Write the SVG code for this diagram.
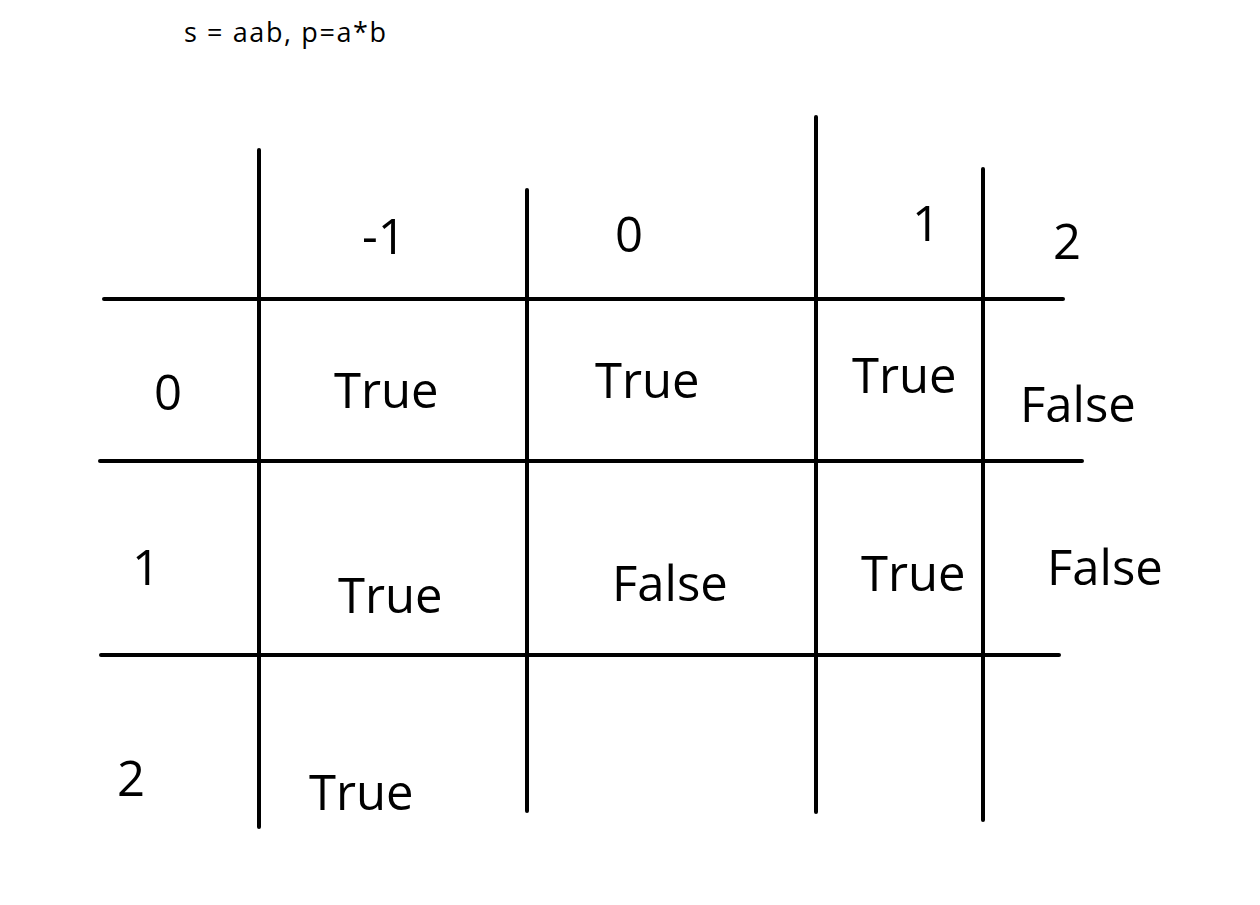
<svg xmlns="http://www.w3.org/2000/svg" width="1260" height="905" viewBox="0 0 1260 905">
<style>
.ln{stroke:#000;stroke-width:4;stroke-linecap:round;fill:none}
.t{font-family:"Open Sans","Noto Sans","DejaVu Sans",sans-serif;font-size:49px;fill:#000}
.title{font-family:"Open Sans","Noto Sans","DejaVu Sans",sans-serif;font-size:27px;letter-spacing:1.6px;fill:#000}
</style>
<rect width="1260" height="905" fill="#fff"/>
<text class="title" x="184" y="42">s = aab, p=a*b</text>
<g id="grid">
<line class="ln" x1="259" y1="150" x2="259" y2="827"/>
<line class="ln" x1="527" y1="190" x2="527" y2="811"/>
<line class="ln" x1="816" y1="117" x2="816" y2="812"/>
<line class="ln" x1="983" y1="169" x2="983" y2="820"/>
<line class="ln" x1="104" y1="299" x2="1063" y2="299"/>
<line class="ln" x1="100" y1="461" x2="1082" y2="461"/>
<line class="ln" x1="101" y1="655" x2="1059" y2="655"/>
</g>
<g id="col-headers">
<text class="t" x="362" y="254">-1</text>
<text class="t" x="615" y="252">0</text>
<text class="t" x="912" y="241">1</text>
<text class="t" x="1053" y="259">2</text>
</g>
<g id="row-headers">
<text class="t" x="154" y="410">0</text>
<text class="t" x="132" y="585">1</text>
<text class="t" x="117" y="796">2</text>
</g>
<g id="cells">
<text class="t" x="334" y="408">True</text>
<text class="t" x="595" y="398">True</text>
<text class="t" x="852" y="393">True</text>
<text class="t" x="1020" y="422">False</text>
<text class="t" x="338" y="613">True</text>
<text class="t" x="612" y="601">False</text>
<text class="t" x="861" y="591">True</text>
<text class="t" x="1047" y="585">False</text>
<text class="t" x="309" y="810">True</text>
</g>
</svg>
